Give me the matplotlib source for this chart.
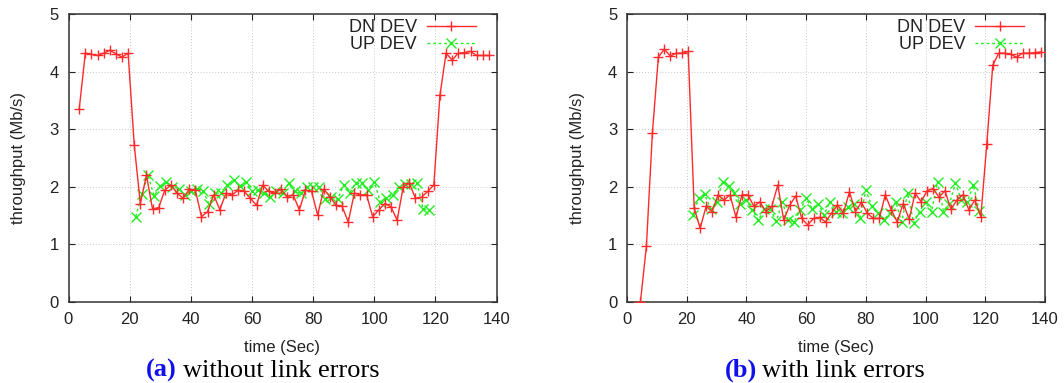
import matplotlib
matplotlib.use("Agg")
import matplotlib.pyplot as plt

# ---------------- data ----------------
# (a) without link errors
a_dn_t = [3.5, 5.5, 7.5, 9.5, 11.5, 13.5, 15.5, 17.5, 19.5, 21.5,
          23.5, 25.5, 27.5, 29.5, 31.5, 33.5, 35.5, 37.5, 39.5, 41.5,
          43.5, 45.5, 47.5, 49.5, 51.5, 53.5, 55.5, 57.5, 59.5, 61.5,
          63.5, 65.5, 67.5, 69.5, 71.5, 73.5, 75.5, 77.5, 79.5, 81.5,
          83.5, 85.5, 87.5, 89.5, 91.5, 93.5, 95.5, 97.5, 99.5, 101.5,
          103.5, 105.5, 107.5, 109.5, 111.5, 113.5, 115.5, 117.5, 119.5, 121.5,
          123.5, 125.5, 127.5, 129.5, 131.5, 133.5, 135.5, 137.5]
a_dn_v = [3.35, 4.32, 4.30, 4.28, 4.32, 4.37, 4.31, 4.25, 4.32, 2.73,
          1.71, 2.20, 1.61, 1.64, 1.94, 2.03, 1.89, 1.80, 1.96, 1.94,
          1.48, 1.57, 1.86, 1.60, 1.89, 1.86, 1.94, 1.92, 1.80, 1.68,
          2.03, 1.92, 1.89, 1.96, 1.83, 1.86, 1.60, 1.94, 1.92, 1.51,
          1.96, 1.83, 1.68, 1.66, 1.39, 1.89, 1.86, 1.86, 1.48, 1.60,
          1.71, 1.65, 1.42, 2.00, 2.06, 1.80, 1.82, 1.92, 2.03, 3.59,
          4.32, 4.20, 4.32, 4.33, 4.35, 4.28, 4.28, 4.28]
a_up_t = [22, 24, 26, 28, 30, 32, 34, 36, 38, 40,
          42, 44, 46, 48, 50, 52, 54, 56, 58, 60,
          62, 64, 66, 68, 70, 72, 74, 76, 78, 80,
          82, 84, 86, 88, 90, 92, 94, 96, 98, 100,
          102, 104, 106, 108, 110, 112, 114, 116, 118]
a_up_v = [1.48, 1.88, 2.20, 1.84, 2.01, 2.09, 2.00, 1.97, 1.86, 1.92,
          1.97, 1.93, 1.70, 1.89, 1.89, 2.03, 2.12, 2.01, 2.09, 1.92,
          1.94, 1.89, 1.82, 1.92, 1.89, 2.06, 1.92, 1.89, 2.00, 2.00,
          2.00, 1.78, 1.83, 1.78, 2.03, 1.90, 2.06, 2.06, 1.95, 2.09,
          1.74, 1.80, 1.86, 2.00, 2.05, 2.04, 2.07, 1.61, 1.60]

# (b) with link errors
b_dn_t = [4.5, 6.5, 8.5, 10.5, 12.5, 14.5, 16.5, 18.5, 20.5, 22.5,
          24.5, 26.5, 28.5, 30.5, 32.5, 34.5, 36.5, 38.5, 40.5, 42.5,
          44.5, 46.5, 48.5, 50.5, 52.5, 54.5, 56.5, 58.5, 60.5, 62.5,
          64.5, 66.5, 68.5, 70.5, 72.5, 74.5, 76.5, 78.5, 80.5, 82.5,
          84.5, 86.5, 88.5, 90.5, 92.5, 94.5, 96.5, 98.5, 100.5, 102.5,
          104.5, 106.5, 108.5, 110.5, 112.5, 114.5, 116.5, 118.5, 120.5, 122.5,
          124.5, 126.5, 128.5, 130.5, 132.5, 134.5, 136.5, 138.5]
b_dn_v = [0.00, 0.97, 2.93, 4.25, 4.39, 4.27, 4.32, 4.32, 4.35, 1.63,
          1.28, 1.66, 1.57, 1.86, 1.77, 1.86, 1.47, 1.86, 1.86, 1.66,
          1.74, 1.57, 1.66, 2.03, 1.42, 1.68, 1.84, 1.45, 1.34, 1.45,
          1.47, 1.39, 1.54, 1.68, 1.55, 1.91, 1.57, 1.73, 1.54, 1.45,
          1.45, 1.86, 1.60, 1.39, 1.71, 1.44, 1.89, 1.74, 1.93, 1.97,
          1.82, 1.93, 1.61, 1.77, 1.86, 1.60, 1.77, 1.48, 2.74, 4.11,
          4.32, 4.32, 4.30, 4.25, 4.32, 4.32, 4.33, 4.34]
b_up_t = [22, 24, 26, 28, 30, 32, 34, 36, 38, 40,
          42, 44, 46, 48, 50, 52, 54, 56, 58, 60,
          62, 64, 66, 68, 70, 72, 74, 76, 78, 80,
          82, 84, 86, 88, 90, 92, 94, 96, 98, 100,
          102, 104, 106, 108, 110, 112, 114, 116, 118]
b_up_v = [1.51, 1.80, 1.87, 1.62, 1.74, 2.09, 2.02, 1.90, 1.70, 1.77,
          1.60, 1.42, 1.62, 1.62, 1.40, 1.74, 1.42, 1.39, 1.60, 1.80,
          1.62, 1.71, 1.51, 1.74, 1.56, 1.54, 1.65, 1.71, 1.45, 1.94,
          1.66, 1.54, 1.42, 1.54, 1.74, 1.39, 1.89, 1.37, 1.57, 1.74,
          1.57, 2.09, 1.57, 1.71, 2.06, 1.77, 1.74, 2.03, 1.58]

series_labels = ["DN DEV", "UP DEV"]
x_ticks = [0, 20, 40, 60, 80, 100, 120, 140]
y_ticks = [0, 1, 2, 3, 4, 5]
captions = [("(a)", "without link errors"), ("(b)", "with link errors")]

# ---------------- figure ----------------
W, H = 1064, 383
fig = plt.figure(figsize=(W / 100, H / 100), dpi=100)
plt.rcParams['font.family'] = ['Liberation Sans', 'DejaVu Sans']

RED = '#ff2a2a'
GREEN = '#22ee22'

axes_px = [(68.5, 496.5), (627, 1045)]
top_px, bot_px = 14, 302

panels = [(a_dn_t, a_dn_v, a_up_t, a_up_v), (b_dn_t, b_dn_v, b_up_t, b_up_v)]
cap_pos = [(177, 183), (757, 762)]

for i, (x0, x1) in enumerate(axes_px):
    ax = fig.add_axes([x0 / W, (H - bot_px) / H, (x1 - x0) / W, (bot_px - top_px) / H])
    dn_t, dn_v, up_t, up_v = panels[i]
    ax.plot(dn_t, dn_v, color=RED, lw=1.0, marker='+', ms=7, mew=1.0,
            label=series_labels[0], zorder=3)
    ax.plot(up_t, up_v, color=GREEN, lw=1.0, ls=(0, (2, 2)), marker='x', ms=7,
            mew=1.0, label=series_labels[1], zorder=2)
    ax.set_xlim(0, 140)
    ax.set_ylim(0, 5)
    ax.set_xticks(x_ticks)
    ax.set_yticks(y_ticks)
    ax.grid(True, color='#c8c8c8', ls=(0, (1, 2)), lw=0.7)
    ax.tick_params(direction='in', length=4, width=0.8, top=True, right=True,
                   labelsize=12, colors='#222222', pad=7)
    for sp in ax.spines.values():
        sp.set_color('#333333')
        sp.set_linewidth(1.1)
    ax.set_xlabel('time (Sec)', fontsize=12, color='#222222')
    ax.set_ylabel('throughput (Mb/s)', fontsize=12, color='#222222')
    wpx = x1 - x0
    ax.xaxis.set_label_coords(0.5, (bot_px - 340) / (bot_px - top_px))
    ax.xaxis.label.set_va('top')
    ax.yaxis.set_label_coords((26 - 68.5) / 428 if i == 0 else (585 - 627) / 418, 0.5)
    leg = ax.legend(loc='upper right', bbox_to_anchor=(1 - 21 / wpx, 1 - 5 / 288),
                    frameon=False, markerfirst=False, fontsize=13,
                    handlelength=2.7, handletextpad=0.55, labelspacing=0.0,
                    borderpad=0, borderaxespad=0)
    for t in leg.get_texts():
        t.set_color('#222222')

    # caption
    xa, xb = cap_pos[i]
    fig.text(xa / W, (H - 377) / H, captions[i][0], ha='right', va='baseline',
             fontsize=19, fontweight='bold', color='#1010ee',
             family=['Liberation Serif', 'DejaVu Serif'])
    fig.text(xb / W, (H - 377) / H, captions[i][1], ha='left', va='baseline',
             fontsize=19, color='black', family=['Liberation Serif', 'DejaVu Serif'])

fig.savefig('out.png', dpi=100)
